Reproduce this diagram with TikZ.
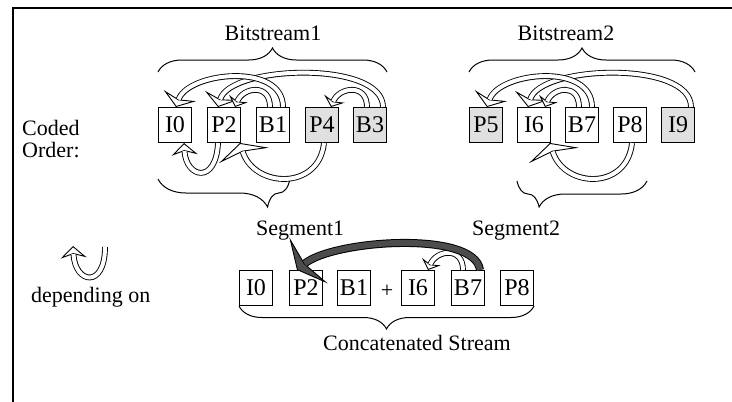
\documentclass[tikz,border=0pt]{standalone}
\usepackage{fontspec}
\setmainfont{Liberation Serif}
\usetikzlibrary{arrows.meta,decorations.pathreplacing}

\tikzset{
  frameline/.style={line width=2.6pt},
  lbl/.style={font=\fontsize{22}{24}\selectfont, inner sep=0pt},
  frm/.style={draw, line width=1pt, minimum width=33pt, minimum height=35pt,
    inner sep=0pt, font=\fontsize{24}{26}\selectfont},
  shadedfrm/.style={frm, fill=black!12},
  brc/.style={decorate, decoration={brace, amplitude=#1}, line width=1pt},
  mbrc/.style n args={2}{decorate, decoration={brace, mirror, amplitude=#1, aspect=#2}, line width=1pt},
  % hollow band ending in an open head: #1 head length, #2 head width, #3 inset
  hollow/.style n args={3}{line width=4pt, white, shorten >=#1-#3,
    preaction={draw=black, line width=5.8pt, shorten >=0pt,
      -{Stealth[length=#1, width=#2, inset=#3, fill=white, line width=0.9pt]}}},
  % dark band ending in a filled head
  solidarrow/.style n args={3}{line width=6pt, black!70, shorten >=#1-#3,
    preaction={draw=black, line width=8pt, shorten >=0pt,
      -{Stealth[length=#1, width=#2, inset=#3, fill=black!70, line width=0.9pt]}}},
}

\begin{document}
\begin{tikzpicture}[x=1pt,y=-1pt]
\useasboundingbox (0,0) rectangle (732,402);

% outer frame (left and top edges)
\draw[frameline] (13,402) -- (13,8) -- (732,8);

% left-hand labels
\node[lbl, anchor=base west] (coded) at (22,135) {Coded};
\node[lbl, anchor=base west] (order) at (22,157) {Order:};

% first bitstream
\node[frm] (i0) at (175,125) {I0};
\node[frm] (p2) at (224,125) {P2};
\node[frm] (b1) at (273,125) {B1};
\node[shadedfrm] (p4) at (322,125) {P4};
\node[shadedfrm] (b3) at (370,125) {B3};

% second bitstream
\node[shadedfrm] (p5) at (486,125) {P5};
\node[frm] (i6) at (534,125) {I6};
\node[frm] (b7) at (582,125) {B7};
\node[frm] (p8) at (630,125) {P8};
\node[shadedfrm] (i9) at (678,125) {I9};

% concatenated stream
\node[frm] (ci0) at (256,288) {I0};
\node[frm] (cp2) at (306,288) {P2};
\node[frm] (cb1) at (354,288) {B1};
\node[lbl] (plus) at (387,291) {+};
\node[frm] (ci6) at (418,288) {I6};
\node[frm] (cb7) at (468,288) {B7};
\node[frm] (cp8) at (517,288) {P8};

% braces and their captions
\draw[brc=24pt] ([yshift=35pt]i0.north west) -- ([yshift=35pt]b3.north east);
\node[lbl, anchor=base] (bs1) at (273,40) {Bitstream1};
\draw[brc=24pt] ([yshift=35pt]p5.north west) -- ([yshift=35pt]i9.north east);
\node[lbl, anchor=base] (bs2) at (566,40) {Bitstream2};

\draw[mbrc={28pt}{0.83}] ([yshift=-36pt]i0.south west) -- ([yshift=-36pt]b1.south east);
\node[lbl, anchor=base west] (seg1) at (256,235) {Segment1};
\draw[mbrc={26pt}{0.17}] ([yshift=-38pt]i6.south west) -- ([yshift=-38pt]p8.south east);
\node[lbl, anchor=base west] (seg2) at (472,235) {Segment2};

\draw[mbrc={23pt}{0.5}] (ci0.south west) -- (cp8.south east);
\node[lbl, anchor=base west] (cat) at (323,350) {Concatenated Stream};

% references inside the first bitstream
\draw[hollow={12pt}{34pt}{4pt}] ([xshift=13pt]b3.north) .. controls +(0,-47) and +(12,-42) .. ([xshift=-6pt]p2.north);
\draw[hollow={12pt}{34pt}{4pt}] ([xshift=10pt]b1.north) .. controls +(0,-45) and +(12,-35) .. ([xshift=1pt]i0.north);
\draw[hollow={9pt}{20pt}{3pt}] ([xshift=-3pt]b1.north) .. controls +(0,-24) and +(8,-20) .. ([xshift=11pt]p2.north);
\draw[hollow={9pt}{22pt}{3pt}] ([xshift=-3pt]b3.north) .. controls +(0,-24) and +(8,-20) .. ([xshift=9pt]p4.north);
\draw[hollow={12pt}{26pt}{4pt}] ([xshift=-6pt]p2.south) .. controls +(-2,42) and +(2,35) .. ([xshift=9pt]i0.south);
\draw[hollow={13pt}{52pt}{4pt}] ([xshift=2pt]p4.south) .. controls +(-5,48) and +(14,45) .. ([xshift=-1pt]p2.south east);

% references inside the second bitstream
\draw[hollow={12pt}{34pt}{4pt}] ([xshift=13pt]i9.north) .. controls +(0,-47) and +(12,-42) .. ([xshift=-6pt]i6.north);
\draw[hollow={12pt}{34pt}{4pt}] ([xshift=10pt]b7.north) .. controls +(0,-45) and +(12,-35) .. ([xshift=1pt]p5.north);
\draw[hollow={9pt}{20pt}{3pt}] ([xshift=-3pt]b7.north) .. controls +(0,-24) and +(8,-20) .. ([xshift=11pt]i6.north);
\draw[hollow={13pt}{52pt}{4pt}] ([xshift=2pt]p8.south) .. controls +(-5,48) and +(14,45) .. ([xshift=-1pt]i6.south east);

% references across the splice
\draw[hollow={9pt}{20pt}{3pt}] ([xshift=-5pt]cb7.north) .. controls +(0,-24) and +(8,-20) .. ([xshift=10pt]ci6.north);
\draw[solidarrow={15pt}{60pt}{5pt}] ([xshift=12pt]cb7.north) .. controls +(-5,-40) and +(36,-30) .. ([xshift=-9pt]cp2.north);

% legend
\coordinate (legfrom) at (105,247);
\coordinate (legto) at (73,246);
\draw[hollow={12pt}{26pt}{4pt}] (legfrom) .. controls +(0,42) and +(2,38) .. (legto);
\node[lbl, anchor=base west] (dep) at (31,302) {depending on};
\end{tikzpicture}
\end{document}
